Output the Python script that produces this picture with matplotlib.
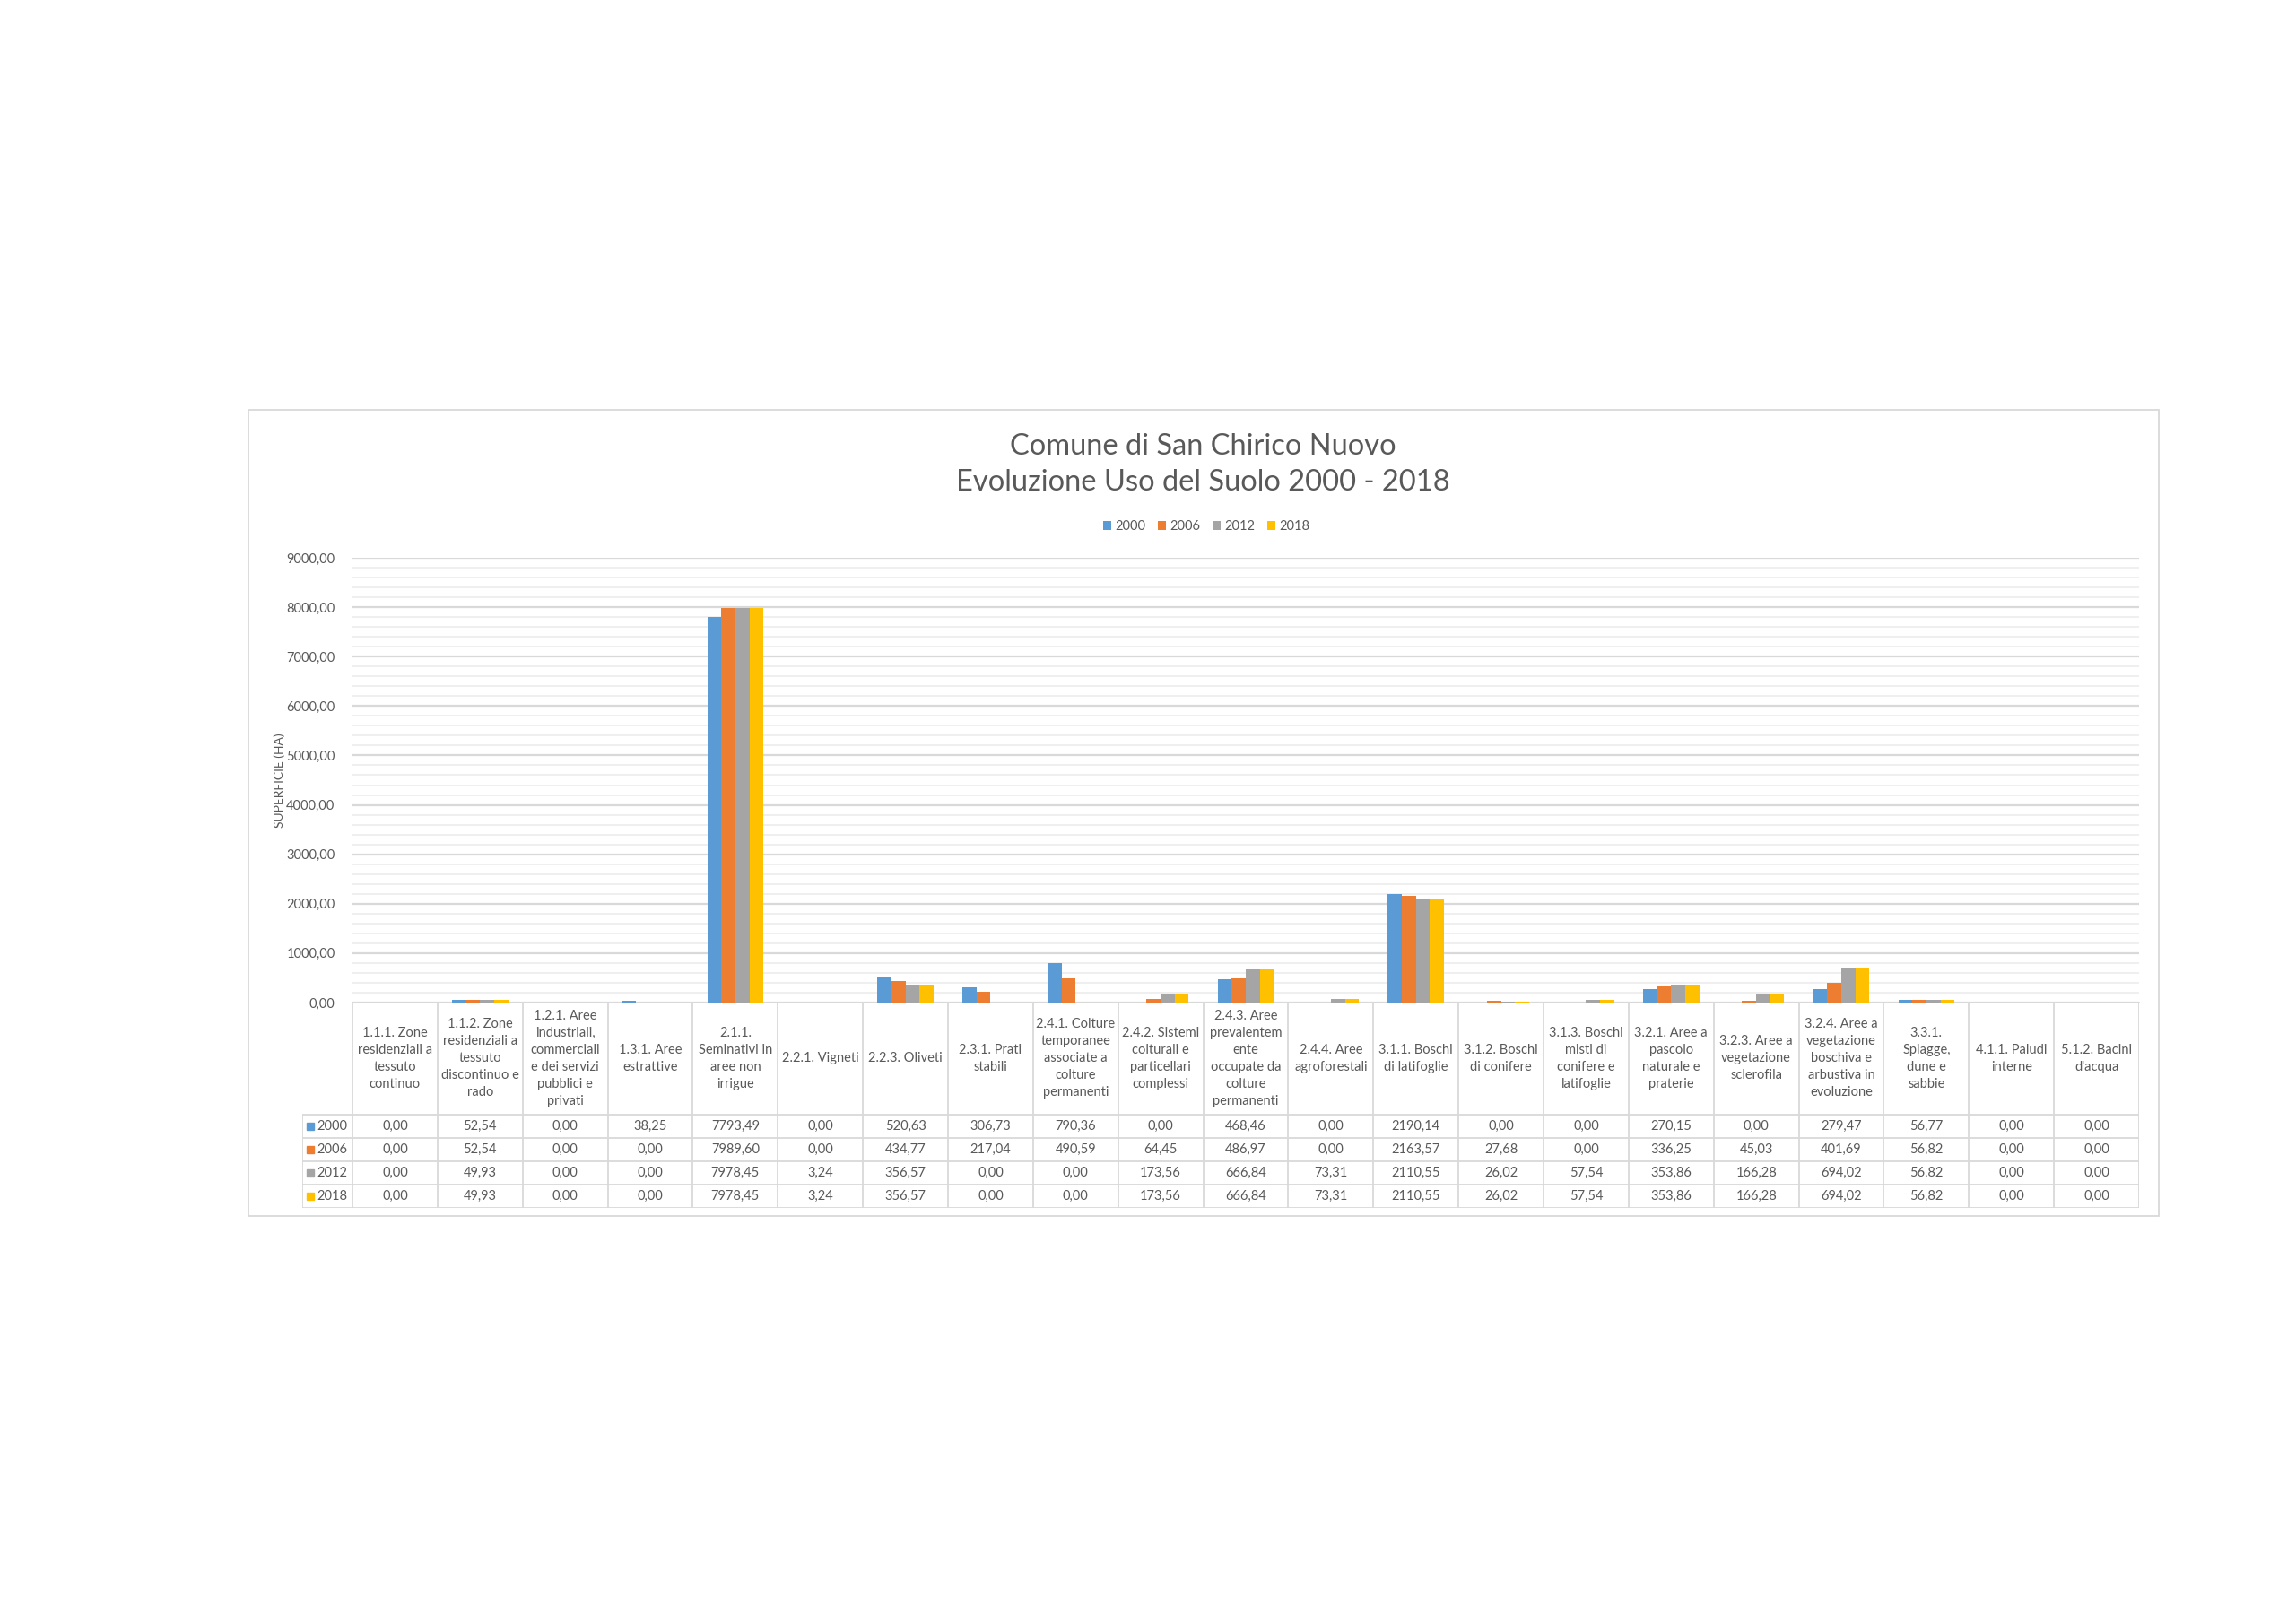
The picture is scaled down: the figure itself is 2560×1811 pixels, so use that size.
import matplotlib
matplotlib.use("Agg")
import matplotlib.pyplot as plt
from matplotlib.patches import Rectangle
from matplotlib.ticker import MultipleLocator, FuncFormatter
import numpy as np

categories = [
    "1.1.1. Zone\nresidenziali a\ntessuto\ncontinuo",
    "1.1.2. Zone\nresidenziali a\ntessuto\ndiscontinuo e\nrado",
    "1.2.1. Aree\nindustriali,\ncommerciali\ne dei servizi\npubblici e\nprivati",
    "1.3.1. Aree\nestrattive",
    "2.1.1.\nSeminativi in\naree non\nirrigue",
    "2.2.1. Vigneti",
    "2.2.3. Oliveti",
    "2.3.1. Prati\nstabili",
    "2.4.1. Colture\ntemporanee\nassociate a\ncolture\npermanenti",
    "2.4.2. Sistemi\ncolturali e\nparticellari\ncomplessi",
    "2.4.3. Aree\nprevalentem\nente\noccupate da\ncolture\npermanenti",
    "2.4.4. Aree\nagroforestali",
    "3.1.1. Boschi\ndi latifoglie",
    "3.1.2. Boschi\ndi conifere",
    "3.1.3. Boschi\nmisti di\nconifere e\nlatifoglie",
    "3.2.1. Aree a\npascolo\nnaturale e\npraterie",
    "3.2.3. Aree a\nvegetazione\nsclerofila",
    "3.2.4. Aree a\nvegetazione\nboschiva e\narbustiva in\nevoluzione",
    "3.3.1.\nSpiagge,\ndune e\nsabbie",
    "4.1.1. Paludi\ninterne",
    "5.1.2. Bacini\nd'acqua",
]

series_names = ["2000", "2006", "2012", "2018"]
v2000 = [0.00, 52.54, 0.00, 38.25, 7793.49, 0.00, 520.63, 306.73, 790.36, 0.00, 468.46,
         0.00, 2190.14, 0.00, 0.00, 270.15, 0.00, 279.47, 56.77, 0.00, 0.00]
v2006 = [0.00, 52.54, 0.00, 0.00, 7989.60, 0.00, 434.77, 217.04, 490.59, 64.45, 486.97,
         0.00, 2163.57, 27.68, 0.00, 336.25, 45.03, 401.69, 56.82, 0.00, 0.00]
v2012 = [0.00, 49.93, 0.00, 0.00, 7978.45, 3.24, 356.57, 0.00, 0.00, 173.56, 666.84,
         73.31, 2110.55, 26.02, 57.54, 353.86, 166.28, 694.02, 56.82, 0.00, 0.00]
v2018 = [0.00, 49.93, 0.00, 0.00, 7978.45, 3.24, 356.57, 0.00, 0.00, 173.56, 666.84,
         73.31, 2110.55, 26.02, 57.54, 353.86, 166.28, 694.02, 56.82, 0.00, 0.00]
series_values = [v2000, v2006, v2012, v2018]
colors = ["#5B9BD5", "#ED7D31", "#A5A5A5", "#FFC000"]

title_lines = "Comune di San Chirico Nuovo\nEvoluzione Uso del Suolo 2000 - 2018"
ylabel = "SUPERFICIE (HA)"

FONT = ["Lato", "DejaVu Sans"]
plt.rcParams["font.family"] = FONT
TXT = "#595959"
GRID_MAJ = "#d9d9d9"
GRID_MIN = "#eeeeee"

W, H = 2560, 1811
fig = plt.figure(figsize=(W / 100, H / 100), dpi=100)

def fx(px):
    return px / W

def fy(py):
    return 1 - py / H

# chart border
fig.patches.append(Rectangle((fx(277), fy(1356)), fx(2407) - fx(277), fy(457) - fy(1356),
                             transform=fig.transFigure, fill=False, edgecolor=GRID_MAJ,
                             linewidth=1.3))

# plot axes
pl, pr, pt, pb = 393, 2385, 622, 1118
ax = fig.add_axes([fx(pl), fy(pb), fx(pr) - fx(pl), fy(pt) - fy(pb)])
n = len(categories)
x = np.arange(n)
bw = 0.165
handles = []
for i, (name, vals, c) in enumerate(zip(series_names, series_values, colors)):
    h = ax.bar(x + (i - 1.5) * bw, vals, width=bw, color=c, label=name, zorder=3)
    handles.append(h)
ax.set_xlim(-0.5, n - 0.5)
ax.set_ylim(0, 9000)
ax.yaxis.set_major_locator(MultipleLocator(1000))
ax.yaxis.set_minor_locator(MultipleLocator(200))
ax.yaxis.set_major_formatter(FuncFormatter(lambda v, p: f"{v:.2f}".replace(".", ",")))
ax.grid(axis="y", which="major", color=GRID_MAJ, linewidth=1.6, zorder=0)
ax.grid(axis="y", which="minor", color=GRID_MIN, linewidth=1.3, zorder=0)
ax.tick_params(axis="y", which="both", length=0, labelsize=10.5, labelcolor=TXT, pad=14)
ax.tick_params(axis="x", which="both", length=0, labelbottom=False)
for s in ["top", "right", "left"]:
    ax.spines[s].set_visible(False)
ax.spines["bottom"].set_color(GRID_MAJ)
ax.spines["bottom"].set_linewidth(1.3)
ax.set_facecolor("none")

fig.text(fx(312), fy(870), ylabel, rotation=90, ha="center", va="center",
         fontsize=10, color=TXT)

# title
fig.text(fx(1341), fy(518), title_lines, ha="center", va="center", fontsize=23.5,
         color=TXT, linespacing=1.4)

# legend
fig.legend(handles=handles, labels=series_names, loc="center",
           bbox_to_anchor=(fx(1345), fy(587)), ncol=4, frameon=False,
           fontsize=10.5, handlelength=0.65, handleheight=0.65, handletextpad=0.3,
           columnspacing=0.9, labelcolor=TXT)

# data table axes
tl, tr, tt, tb = 337, 2385, 1118, 1347
colw = (pr - pl) / n
ax_t = fig.add_axes([fx(tl), fy(tb), fx(tr) - fx(tl), fy(tt) - fy(tb)])
key_left = -0.5 - (pl - tl) / colw
ax_t.set_xlim(key_left, n - 0.5)
hdr = 124
rowh = 26
total = hdr + rowh * len(series_names)
ax_t.set_ylim(total, 0)
ax_t.axis("off")

lc = GRID_MAJ
lw = 1.3
for k in range(n + 1):
    ax_t.plot([k - 0.5, k - 0.5], [0, total], color=lc, lw=lw, solid_capstyle="butt")
ax_t.plot([key_left, key_left], [hdr, total], color=lc, lw=lw)
for r in range(len(series_names) + 1):
    yy = hdr + r * rowh
    ax_t.plot([key_left, n - 0.5], [yy, yy], color=lc, lw=lw)

for k, cat in enumerate(categories):
    ax_t.text(k, hdr / 2, cat, ha="center", va="center", fontsize=10.5, color=TXT,
              linespacing=1.45)

for r, (name, vals, c) in enumerate(zip(series_names, series_values, colors)):
    yc = hdr + rowh * r + rowh / 2
    ax_t.plot([key_left + 0.1], [yc], marker="s", markersize=5.2, color=c, lw=0)
    ax_t.text(key_left + 0.17, yc, name, ha="left", va="center", fontsize=10.5, color=TXT)
    for k, v in enumerate(vals):
        ax_t.text(k, yc, f"{v:.2f}".replace(".", ","), ha="center", va="center",
                  fontsize=10.5, color=TXT)

fig.savefig("out.png", dpi=100, facecolor="white")
